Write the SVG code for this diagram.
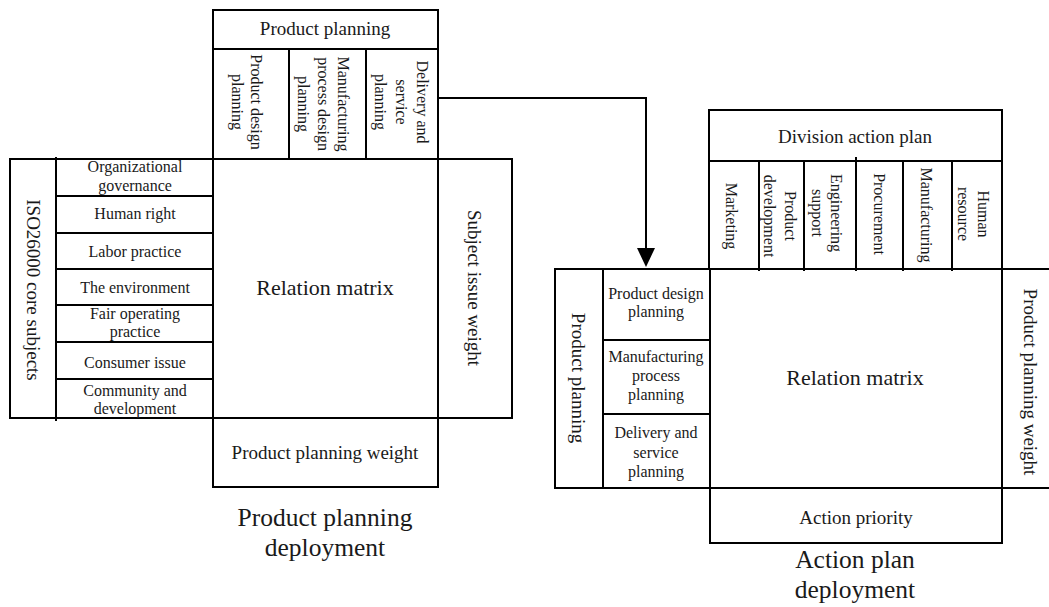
<svg xmlns="http://www.w3.org/2000/svg" width="1049" height="607" viewBox="0 0 1049 607">
<defs>
<style>
.b{fill:none;stroke:#000;stroke-width:2}
.l{stroke:#000;stroke-width:2;fill:none}
text{font-family:"Liberation Serif","Times New Roman",serif;fill:#1a1a1a;text-anchor:middle}
.s{font-size:16px}
.m{font-size:19px}
.r{font-size:22px}
.t{font-size:25.5px}
.v{dominant-baseline:central}
</style>
</defs>
<rect width="1049" height="607" fill="#fff"/>

<!-- Left diagram: Product planning deployment -->
<g id="left-product-planning-header">
<rect class="b" x="213" y="10" width="225" height="149"/>
<line class="l" x1="213" y1="49" x2="438" y2="49"/>
<line class="l" x1="289" y1="49" x2="289" y2="159"/>
<line class="l" x1="366" y1="49" x2="366" y2="159"/>
<text class="m" x="325" y="35">Product planning</text>
<text class="s v" transform="translate(256,102) rotate(90)">Product design</text>
<text class="s v" transform="translate(237,102) rotate(90)">planning</text>
<text class="s v" transform="translate(343,104) rotate(90)">Manufacturing</text>
<text class="s v" transform="translate(323,104) rotate(90)">process design</text>
<text class="s v" transform="translate(303,104) rotate(90)">planning</text>
<text class="s v" transform="translate(422,102) rotate(90)">Delivery and</text>
<text class="s v" transform="translate(401,102) rotate(90)">service</text>
<text class="s v" transform="translate(380,102) rotate(90)">planning</text>
</g>

<g id="left-iso-subjects">
<rect class="b" x="10" y="159" width="203" height="259"/>
<line class="l" x1="56" y1="157" x2="56" y2="421"/>
<line class="l" x1="56" y1="196" x2="214" y2="196"/>
<line class="l" x1="56" y1="233" x2="214" y2="233"/>
<line class="l" x1="56" y1="269" x2="214" y2="269"/>
<line class="l" x1="56" y1="305" x2="214" y2="305"/>
<line class="l" x1="56" y1="342" x2="214" y2="342"/>
<line class="l" x1="56" y1="379" x2="214" y2="379"/>
<text class="m v" transform="translate(33,290) rotate(90)">ISO26000 core subjects</text>
<text class="s" x="135" y="172">Organizational</text>
<text class="s" x="135" y="191">governance</text>
<text class="s" x="135" y="219">Human right</text>
<text class="s" x="135" y="257">Labor practice</text>
<text class="s" x="135" y="293">The environment</text>
<text class="s" x="135" y="319">Fair operating</text>
<text class="s" x="135" y="337">practice</text>
<text class="s" x="135" y="368">Consumer issue</text>
<text class="s" x="135" y="396">Community and</text>
<text class="s" x="135" y="414">development</text>
</g>

<g id="left-relation-matrix">
<rect class="b" x="213" y="159" width="225" height="259"/>
<text class="r" x="325" y="295">Relation matrix</text>
</g>

<g id="left-subject-issue-weight">
<rect class="b" x="438" y="159" width="74" height="259"/>
<text class="m v" transform="translate(474,288) rotate(90)">Subject issue weight</text>
</g>

<g id="left-product-planning-weight">
<rect class="b" x="213" y="418" width="225" height="69"/>
<text class="m" x="325" y="459">Product planning weight</text>
</g>

<g id="left-title">
<text class="t" x="325" y="526">Product planning</text>
<text class="t" x="325" y="556">deployment</text>
</g>

<!-- Right diagram: Action plan deployment -->
<g id="right-division-header">
<rect class="b" x="709" y="110" width="293" height="159"/>
<line class="l" x1="709" y1="161" x2="1002" y2="161"/>
<line class="l" x1="759" y1="161" x2="759" y2="271"/>
<line class="l" x1="804" y1="161" x2="804" y2="271"/>
<line class="l" x1="856" y1="157" x2="856" y2="271"/>
<line class="l" x1="903" y1="161" x2="903" y2="271"/>
<line class="l" x1="952" y1="161" x2="952" y2="271"/>
<text class="m" x="855" y="143">Division action plan</text>
<text class="s v" transform="translate(731,216) rotate(90)">Marketing</text>
<text class="s v" transform="translate(790,216) rotate(90)">Product</text>
<text class="s v" transform="translate(769,216) rotate(90)">development</text>
<text class="s v" transform="translate(836,213) rotate(90)">Engineering</text>
<text class="s v" transform="translate(817,213) rotate(90)">support</text>
<text class="s v" transform="translate(879,214) rotate(90)">Procurement</text>
<text class="s v" transform="translate(926,215) rotate(90)">Manufacturing</text>
<text class="s v" transform="translate(983,214) rotate(90)">Human</text>
<text class="s v" transform="translate(963,214) rotate(90)">resource</text>
</g>

<g id="right-product-planning-list">
<path class="l" d="M1049,269 H555 V488 H1049"/>
<line class="l" x1="603" y1="269" x2="603" y2="488"/>
<line class="l" x1="710" y1="269" x2="710" y2="488"/>
<line class="l" x1="603" y1="340" x2="710" y2="340"/>
<line class="l" x1="603" y1="414" x2="710" y2="414"/>
<text class="m v" transform="translate(578,378) rotate(90)">Product planning</text>
<text class="s" x="656" y="299">Product design</text>
<text class="s" x="656" y="317">planning</text>
<text class="s" x="656" y="362">Manufacturing</text>
<text class="s" x="656" y="381">process</text>
<text class="s" x="656" y="400">planning</text>
<text class="s" x="656" y="438">Delivery and</text>
<text class="s" x="656" y="458">service</text>
<text class="s" x="656" y="477">planning</text>
</g>

<g id="right-relation-matrix">
<line class="l" x1="1002" y1="269" x2="1002" y2="488"/>
<text class="r" x="855" y="385">Relation matrix</text>
</g>

<g id="right-product-planning-weight">
<text class="m v" transform="translate(1030,382) rotate(90)">Product planning weight</text>
</g>

<g id="right-action-priority">
<rect class="b" x="710" y="488" width="292" height="55"/>
<text class="m" x="856" y="524">Action priority</text>
</g>

<g id="right-title">
<text class="t" x="855" y="568">Action plan</text>
<text class="t" x="855" y="598">deployment</text>
</g>

<g id="connectors">
<path class="l" d="M438,98 H646 V250"/>
<polygon points="637,248 655,248 646,267" fill="#000"/>
</g>
</svg>
